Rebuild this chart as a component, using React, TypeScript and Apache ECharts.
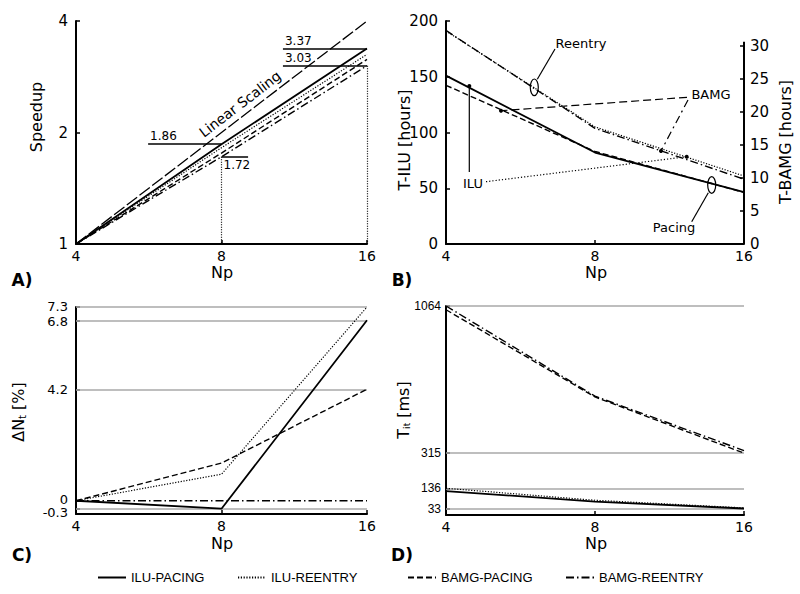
import { useEffect, useRef } from 'react';
import * as echarts from 'echarts';

// ---- data ----
const npValues = [4, 8, 16];
const linearSpeedup = [1, 2, 4];
const speedupIluPacing = [1, 1.86, 3.37];
const speedupIluReentry = [1, 1.82, 3.25];
const speedupBamgPacing = [1, 1.76, 3.15];
const speedupBamgReentry = [1, 1.72, 3.03];

const hoursIluPacing = [151, 82, 46.5];
const hoursIluReentry = [191, 105, 61];
const hoursBamgPacing = [24, 14, 7.8];
const hoursBamgReentry = [32.3, 17.5, 9.8];

const dNIluPacing = [0, -0.3, 6.8];
const dNIluReentry = [0, 1.0, 7.3];
const dNBamgPacing = [0, 1.42, 4.2];
const dNBamgReentry = [0, 0, 0];

const titIluPacing = [122, 68, 33];
const titIluReentry = [136, 75, 36];
const titBamgPacing = [1045, 601, 315];
const titBamgReentry = [1064, 605, 328];

const dNTicks = [-0.3, 0, 4.2, 6.8, 7.3];
const dNLabelsA = [0, 4.2, 6.8];
const dNLabelsB = [-0.3, 7.3];
const dNGrid = [7.3, 6.8, 4.2, -0.3];
const titTicks = [33, 136, 315, 1064];
const bamgHourTicks = [0, 5, 10, 15, 20, 25, 30];
const bamgAxisTop = 30.6;
const legendNames = ['ILU-PACING', 'ILU-REENTRY', 'BAMG-PACING', 'BAMG-REENTRY'];

const FONT = "'DejaVu Sans', Verdana, sans-serif";
const NARROW = "'Liberation Sans Narrow', 'Arial Narrow', 'Liberation Sans', Arial, sans-serif";
const ARIAL = "'Liberation Sans', Arial, sans-serif";

const STYLES: Record<string, any> = {
  'ILU-PACING': { type: 'solid', width: 1.8 },
  'ILU-REENTRY': { type: [1.2, 1.6], width: 1.2 },
  'BAMG-PACING': { type: [6, 3], width: 1.4 },
  'BAMG-REENTRY': { type: [8, 3, 1.5, 3], width: 1.4 },
};

const pts = (ys: number[]) => npValues.map((x, i) => [x, ys[i]]);

function mk(name: string, xIdx: number, yIdx: number, ys: number[], extra: any = {}) {
  return {
    type: 'line',
    name,
    xAxisIndex: xIdx,
    yAxisIndex: yIdx,
    data: pts(ys),
    symbol: 'none',
    lineStyle: { color: '#000', ...STYLES[name] },
    itemStyle: { color: '#000' },
    silent: true,
    z: 3,
    ...extra,
  };
}

const axisLineStyle = { onZero: false, lineStyle: { color: '#000', width: 2 } };
const tickStyle = { inside: true, length: 4, lineStyle: { color: '#000', width: 1.5 } };

function xAxis(gridIndex: number) {
  return {
    type: 'log',
    logBase: 2,
    min: 4,
    max: 16,
    gridIndex,
    axisLine: axisLineStyle,
    axisTick: tickStyle,
    axisLabel: { color: '#000', fontFamily: FONT, fontSize: 14, margin: 5 },
    splitLine: { show: false },
  };
}

const gridLineStyle = { color: '#a8a8a8', width: 1.5, type: 'solid' };

function txt(x: number, y: number, text: string, size = 14, extra: any = {}, styleExtra: any = {}) {
  return {
    type: 'text',
    x,
    y,
    silent: true,
    style: { text, fill: '#000', font: `${size}px ${FONT}`, align: 'center', verticalAlign: 'middle', ...styleExtra },
    ...extra,
  };
}
function seg(x1: number, y1: number, x2: number, y2: number, dash?: number[]) {
  return {
    type: 'line',
    silent: true,
    shape: { x1, y1, x2, y2 },
    style: { stroke: '#000', lineWidth: 1.2, lineDash: dash || null },
  };
}
function dot(cx: number, cy: number) {
  return { type: 'circle', silent: true, shape: { cx, cy, r: 2 }, style: { fill: '#000' } };
}
function ell(cx: number, cy: number) {
  return { type: 'ellipse', silent: true, shape: { cx, cy, rx: 4, ry: 8.3 }, style: { fill: 'none', stroke: '#000', lineWidth: 1.2 } };
}

export default function App() {
  const ref = useRef<HTMLDivElement>(null);
  useEffect(() => {
    if (!ref.current) return;
    const chart = echarts.init(ref.current, undefined, { renderer: 'svg' });

    const annoLabel = (pos: string) => ({
      show: true,
      position: pos,
      formatter: '{c}',
      color: '#000',
      fontFamily: FONT,
      fontSize: 12,
      distance: 2,
    });

    const cRich = { fontFamily: FONT, fontSize: 13, color: '#000' };
    const cFormatter = (v: number) => {
      if (v === 0) return '{up|0}';
      if (Math.abs(v + 0.3) < 1e-9) return '{dn|-0.3}';
      if (Math.abs(v - 7.3) < 1e-9) return '{hi|7.3}';
      if (Math.abs(v - 6.8) < 1e-9) return '{lo|6.8}';
      return '{n|' + String(v) + '}';
    };
    const cRichSet = {
      n: { ...cRich },
      hi: { ...cRich, padding: [0, 0, 2, 0] },
      lo: { ...cRich, padding: [2, 0, 0, 0] },
      up: { ...cRich, padding: [0, 0, 3, 0] },
      dn: { ...cRich, padding: [8, 0, 0, 0] },
    };

    const option: any = {
      animation: false,
      backgroundColor: '#fff',
      grid: [
        { left: 76, top: 21, width: 291, height: 223 },
        { left: 446, top: 21, width: 298, height: 223 },
        { left: 76, top: 307, width: 291, height: 207 },
        { left: 446, top: 306, width: 298, height: 209 },
      ],
      xAxis: [xAxis(0), xAxis(1), xAxis(2), xAxis(3)],
      yAxis: [
        {
          type: 'log', logBase: 2, min: 1, max: 4, gridIndex: 0,
          axisLine: axisLineStyle, axisTick: tickStyle,
          axisLabel: { color: '#000', fontFamily: FONT, fontSize: 15, margin: 8 },
          splitLine: { show: false },
        },
        {
          type: 'value', min: 0, max: 200, interval: 50, gridIndex: 1,
          axisLine: axisLineStyle, axisTick: tickStyle,
          axisLabel: { color: '#000', fontFamily: FONT, fontSize: 15, margin: 8 },
          splitLine: { show: false },
        },
        {
          type: 'value', min: 0, max: 33.73, gridIndex: 1, position: 'right',
          axisLine: { show: false },
          axisTick: { ...tickStyle, customValues: bamgHourTicks },
          axisLabel: { color: '#000', fontFamily: FONT, fontSize: 15, margin: 6, customValues: bamgHourTicks },
          splitLine: { show: false },
        },
        {
          type: 'value', min: -0.5, max: 7.3, gridIndex: 2, position: 'left',
          axisLine: axisLineStyle,
          axisTick: { ...tickStyle, customValues: dNTicks },
          axisLabel: {
            color: '#000', fontFamily: FONT, fontSize: 13, margin: 8, customValues: dNLabelsA,
            formatter: cFormatter, rich: cRichSet,
          },
          splitLine: { show: false },
        },
        {
          type: 'value', min: 0, max: 1064, gridIndex: 3,
          axisLine: axisLineStyle,
          axisTick: { ...tickStyle, customValues: titTicks },
          axisLabel: {
            color: '#000', fontFamily: ARIAL, fontSize: 12, margin: 5, customValues: titTicks,
            formatter: (v: number) => String(v),
          },
          splitLine: { show: false },
        },
        {
          type: 'value', min: -0.5, max: 7.3, gridIndex: 2, position: 'left', offset: 0,
          axisLine: { show: false },
          axisTick: { show: false },
          axisLabel: {
            color: '#000', fontFamily: FONT, fontSize: 13, margin: 8, customValues: dNLabelsB,
            formatter: cFormatter, rich: cRichSet,
          },
          splitLine: { show: false },
        },
      ],
      legend: legendNames.map((n, i) => ({
        data: [n],
        left: [97, 237, 407, 565][i],
        top: 571,
        padding: 0,
        itemWidth: 28,
        itemHeight: 14,
        itemGap: 5,
        selectedMode: false,
        itemStyle: { color: 'transparent', borderColor: 'transparent', borderWidth: 0, opacity: 0 },
        textStyle: { color: '#000', fontFamily: NARROW, fontSize: 13, padding: [0, 0, 0, 0] },
      })),
      series: [
        // Panel A
        {
          type: 'line', name: 'Linear Scaling', xAxisIndex: 0, yAxisIndex: 0,
          data: pts(linearSpeedup), symbol: 'none', silent: true,
          lineStyle: { color: '#000', width: 1.3, type: [13, 3] },
          markLine: {
            silent: true, symbol: ['none', 'none'], animation: false,
            lineStyle: { color: '#000', width: 1.5, type: 'solid' },
            data: [
              [{ coord: [5.64, 1.86], value: '1.86', label: annoLabel('insideStartTop') }, { coord: [8, 1.86] }],
              [{ coord: [8, 1.72], value: '1.72', label: annoLabel('insideStartBottom') }, { coord: [9.08, 1.72] }],
              [{ coord: [10.72, 3.37], value: '3.37', label: annoLabel('insideStartTop') }, { coord: [16, 3.37] }],
              [{ coord: [10.72, 3.03], value: '3.03', label: annoLabel('insideStartTop') }, { coord: [16, 3.03] }],
              [{ coord: [8, 1.72], label: { show: false }, lineStyle: { type: [1, 1.5], width: 1.2 } }, { coord: [8, 1] }],
              [{ coord: [16, 3.03], label: { show: false }, lineStyle: { type: [1, 1.5], width: 1.2 } }, { coord: [16, 1] }],
            ],
          },
        },
        mk('ILU-PACING', 0, 0, speedupIluPacing),
        mk('ILU-REENTRY', 0, 0, speedupIluReentry),
        mk('BAMG-PACING', 0, 0, speedupBamgPacing),
        mk('BAMG-REENTRY', 0, 0, speedupBamgReentry),
        // Panel B
        mk('ILU-PACING', 1, 1, hoursIluPacing),
        mk('ILU-REENTRY', 1, 1, hoursIluReentry),
        mk('BAMG-PACING', 1, 2, hoursBamgPacing, {
          markLine: {
            silent: true, symbol: ['none', 'none'], animation: false, label: { show: false },
            lineStyle: { color: '#000', width: 2, type: 'solid' },
            data: [[{ coord: [16, 0] }, { coord: [16, bamgAxisTop] }]],
          },
        }),
        mk('BAMG-REENTRY', 1, 2, hoursBamgReentry),
        // Panel C
        mk('ILU-PACING', 2, 3, dNIluPacing, {
          markLine: {
            silent: true, symbol: ['none', 'none'], z: 1, animation: false,
            label: { show: false }, lineStyle: gridLineStyle,
            data: dNGrid.map((v) => ({ yAxis: v })),
          },
        }),
        mk('ILU-REENTRY', 2, 3, dNIluReentry),
        mk('BAMG-PACING', 2, 3, dNBamgPacing),
        mk('BAMG-REENTRY', 2, 3, dNBamgReentry),
        // Panel D
        mk('ILU-PACING', 3, 4, titIluPacing, {
          markLine: {
            silent: true, symbol: ['none', 'none'], z: 1, animation: false,
            label: { show: false }, lineStyle: gridLineStyle,
            data: titTicks.map((v) => ({ yAxis: v })),
          },
        }),
        mk('ILU-REENTRY', 3, 4, titIluReentry),
        mk('BAMG-PACING', 3, 4, titBamgPacing),
        mk('BAMG-REENTRY', 3, 4, titBamgReentry),
      ],
      graphic: [
        // panel labels
        txt(22, 280, 'A)', 17, {}, { font: `bold 17px ${FONT}` }),
        txt(402, 280, 'B)', 17, {}, { font: `bold 17px ${FONT}` }),
        txt(22, 555, 'C)', 17, {}, { font: `bold 17px ${FONT}` }),
        txt(402, 555, 'D)', 17, {}, { font: `bold 17px ${FONT}` }),
        // axis titles
        txt(36, 117, 'Speedup', 16, { rotation: Math.PI / 2 }),
        txt(222, 272, 'Np', 16),
        txt(404, 140, 'T-ILU [hours]', 16, { rotation: Math.PI / 2 }),
        txt(785, 142, 'T-BAMG [hours]', 16, { rotation: Math.PI / 2 }),
        txt(596, 272, 'Np', 16),
        {
          type: 'text', x: 18, y: 412, rotation: Math.PI / 2, silent: true,
          style: {
            text: '{a|ΔN}{s|t}{a| [%]}', align: 'center', verticalAlign: 'middle', fill: '#000',
            rich: {
              a: { fontFamily: FONT, fontSize: 16, fill: '#000' },
              s: { fontFamily: FONT, fontSize: 10, fill: '#000', padding: [8, 0, 0, 0] },
            },
          },
        },
        txt(222, 543, 'Np', 16),
        {
          type: 'text', x: 403, y: 410, rotation: Math.PI / 2, silent: true,
          style: {
            text: '{a|T}{s|it}{a| [ms]}', align: 'center', verticalAlign: 'middle', fill: '#000',
            rich: {
              a: { fontFamily: FONT, fontSize: 16, fill: '#000' },
              s: { fontFamily: FONT, fontSize: 9, fill: '#000', padding: [8, 0, 0, 0] },
            },
          },
        },
        txt(596, 543, 'Np', 16),
        // Linear scaling
        txt(240, 104, 'Linear Scaling', 14, { rotation: 0.655 }),
        // Panel B annotations
        txt(581, 43, 'Reentry', 13),
        ell(534.3, 87.3),
        seg(537.3, 79.3, 555, 49),
        txt(711, 94, 'BAMG', 13),
        seg(687, 97.3, 501, 110.7, [8, 4]),
        dot(501, 110.7),
        seg(688, 100, 661, 151, [8, 4, 2, 4]),
        dot(661, 151),
        txt(473, 183, 'ILU', 13),
        seg(469.3, 172, 469.3, 86),
        dot(469.3, 86),
        seg(486, 181.7, 686.7, 156.7, [1.2, 2]),
        dot(686.7, 156.7),
        txt(674, 227.5, 'Pacing', 13),
        ell(711.7, 185),
        seg(708.3, 192.7, 691.7, 221.7),
      ],
    };
    chart.setOption(option);
    return () => chart.dispose();
  }, []);
  return (
    <div
      ref={ref}
      style={{ position: 'fixed', left: 0, top: 0, width: 800, height: 594, background: '#fff' }}
    />
  );
}
